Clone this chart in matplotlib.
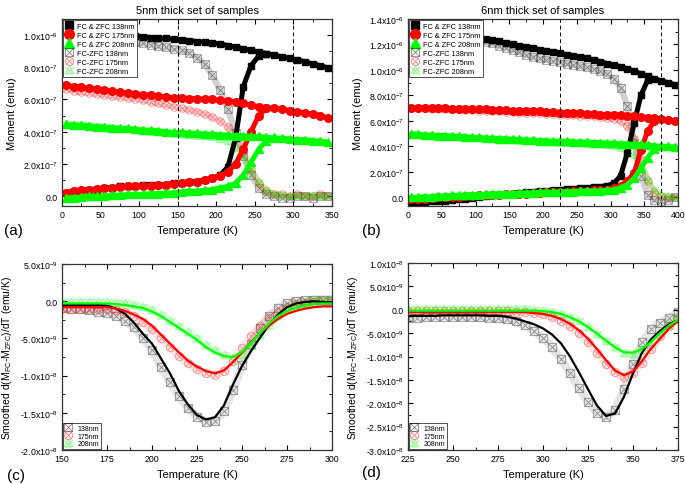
import numpy as np
import matplotlib
matplotlib.use("Agg")
import matplotlib.pyplot as plt
from matplotlib.path import Path
from matplotlib.lines import Line2D
from matplotlib.ticker import MultipleLocator, AutoMinorLocator, FuncFormatter

plt.rcParams.update({
    "font.family": ["Liberation Sans", "DejaVu Sans"],
    "mathtext.fontset": "custom",
    "mathtext.rm": "Liberation Sans",
    "mathtext.it": "Liberation Sans:italic",
    "mathtext.default": "regular",
})

# ---- panel (a): 5nm set, moment in 1e-6 emu ----
temps_a = [5, 15, 25, 35, 45, 55, 65, 75, 85, 95, 105, 115, 125, 135, 145, 155, 165, 175,
           185, 195, 205, 215, 225, 235, 245, 255, 265, 275, 285, 295, 305, 315, 325, 335, 345]
fc_138_a = [1.03, 1.03, 1.02, 1.02, 1.01, 1.01, 1.01, 1.00, 1.00, 0.995, 0.99, 0.985, 0.98, 0.98,
            0.975, 0.97, 0.965, 0.96, 0.955, 0.95, 0.945, 0.935, 0.925, 0.915, 0.905, 0.895,
            0.885, 0.875, 0.865, 0.855, 0.845, 0.835, 0.82, 0.81, 0.795]
zfc_138_a = [0.02, 0.03, 0.03, 0.04, 0.04, 0.05, 0.05, 0.06, 0.06, 0.06, 0.07, 0.07, 0.07, 0.07,
             0.08, 0.08, 0.09, 0.09, 0.10, 0.11, 0.13, 0.18, 0.36, 0.68, 0.81, 0.87, 0.885]
diff_138_a = [0.99, 0.99, 0.985, 0.98, 0.98, 0.975, 0.97, 0.965, 0.96, 0.955, 0.95, 0.94, 0.93,
              0.925, 0.915, 0.905, 0.89, 0.86, 0.82, 0.75, 0.66, 0.54, 0.39, 0.25, 0.13, 0.05,
              0.01, 0.0, -0.01, -0.01, 0.0, 0.0, -0.01, 0.0, 0.0]
fc_175_a = [0.69, 0.68, 0.675, 0.67, 0.665, 0.66, 0.65, 0.645, 0.64, 0.635, 0.63, 0.625, 0.62,
            0.615, 0.61, 0.61, 0.605, 0.605, 0.60, 0.60, 0.595, 0.59, 0.585, 0.575, 0.565, 0.555,
            0.55, 0.545, 0.54, 0.53, 0.525, 0.515, 0.51, 0.50, 0.485]
zfc_175_a = [0.02, 0.03, 0.035, 0.04, 0.045, 0.05, 0.05, 0.055, 0.06, 0.06, 0.065, 0.065, 0.07,
             0.07, 0.075, 0.08, 0.085, 0.09, 0.10, 0.11, 0.125, 0.15, 0.20, 0.29, 0.40, 0.50, 0.545]
diff_175_a = [0.665, 0.655, 0.645, 0.64, 0.635, 0.63, 0.62, 0.615, 0.61, 0.605, 0.595, 0.585,
              0.575, 0.565, 0.555, 0.545, 0.535, 0.525, 0.51, 0.49, 0.465, 0.43, 0.37, 0.28,
              0.17, 0.08, 0.03, 0.01, 0.01, 0.0, 0.01, 0.0, 0.0, 0.01, 0.0]
fc_208_a = [0.445, 0.44, 0.44, 0.435, 0.43, 0.43, 0.425, 0.42, 0.42, 0.415, 0.41, 0.41, 0.405,
            0.40, 0.395, 0.395, 0.39, 0.39, 0.385, 0.385, 0.38, 0.38, 0.375, 0.375, 0.37, 0.37,
            0.365, 0.36, 0.36, 0.355, 0.35, 0.35, 0.345, 0.34, 0.335]
zfc_208_a = [-0.01, -0.01, -0.005, 0.0, 0.0, 0.0, 0.005, 0.005, 0.01, 0.01, 0.01, 0.015, 0.015,
             0.02, 0.02, 0.025, 0.03, 0.03, 0.035, 0.04, 0.05, 0.06, 0.08, 0.13, 0.21, 0.29,
             0.345, 0.365]
diff_208_a = [0.45, 0.445, 0.44, 0.44, 0.435, 0.43, 0.425, 0.42, 0.415, 0.41, 0.405, 0.40, 0.395,
              0.39, 0.385, 0.38, 0.38, 0.375, 0.37, 0.365, 0.355, 0.34, 0.30, 0.24, 0.16, 0.09,
              0.04, 0.015, 0.005, 0.0, 0.0, 0.0, 0.005, 0.0, 0.0]

# ---- panel (b): 6nm set, moment in 1e-6 emu ----
temps_b = [5, 15, 25, 35, 45, 55, 65, 75, 85, 95, 105, 115, 125, 135, 145, 155, 165, 175, 185, 195,
           205, 215, 225, 235, 245, 255, 265, 275, 285, 295, 305, 315, 325, 335, 345, 355, 365,
           375, 385, 395]
fc_138_b = [1.30, 1.295, 1.29, 1.285, 1.28, 1.275, 1.27, 1.265, 1.26, 1.255, 1.25, 1.24, 1.235,
            1.225, 1.21, 1.20, 1.19, 1.18, 1.17, 1.16, 1.15, 1.14, 1.13, 1.12, 1.11, 1.10, 1.09,
            1.08, 1.065, 1.05, 1.04, 1.025, 1.01, 0.99, 0.97, 0.95, 0.93, 0.915, 0.90, 0.885]
zfc_138_b = [-0.04, -0.04, -0.035, -0.03, -0.03, -0.025, -0.02, -0.015, -0.01, -0.005, 0.0, 0.01,
             0.015, 0.02, 0.025, 0.03, 0.035, 0.04, 0.045, 0.05, 0.05, 0.055, 0.06, 0.065, 0.065,
             0.07, 0.075, 0.08, 0.085, 0.09, 0.11, 0.17, 0.35, 0.58, 0.80, 0.92]
diff_138_b = [1.30, 1.29, 1.285, 1.28, 1.27, 1.265, 1.26, 1.25, 1.245, 1.24, 1.23, 1.22, 1.21,
              1.19, 1.175, 1.16, 1.14, 1.12, 1.10, 1.09, 1.08, 1.07, 1.06, 1.05, 1.04, 1.03, 1.02,
              1.005, 0.99, 0.97, 0.93, 0.86, 0.72, 0.43, 0.17, 0.02, -0.02, -0.03, -0.02, 0.0]
fc_175_b = [0.705, 0.705, 0.70, 0.70, 0.70, 0.70, 0.695, 0.695, 0.695, 0.69, 0.69, 0.69, 0.685,
            0.685, 0.685, 0.68, 0.68, 0.68, 0.675, 0.675, 0.67, 0.67, 0.665, 0.665, 0.66, 0.66,
            0.655, 0.655, 0.65, 0.65, 0.645, 0.645, 0.64, 0.635, 0.63, 0.625, 0.62, 0.615, 0.61,
            0.60]
zfc_175_b = [-0.015, -0.01, -0.01, -0.005, 0.0, 0.0, 0.005, 0.005, 0.01, 0.01, 0.015, 0.015, 0.02,
             0.02, 0.025, 0.025, 0.03, 0.03, 0.035, 0.035, 0.04, 0.04, 0.045, 0.045, 0.05, 0.05,
             0.05, 0.055, 0.055, 0.06, 0.07, 0.09, 0.13, 0.19, 0.37, 0.52, 0.60]
diff_175_b = [0.70, 0.70, 0.70, 0.695, 0.695, 0.69, 0.69, 0.69, 0.685, 0.685, 0.68, 0.68, 0.675,
              0.675, 0.67, 0.67, 0.665, 0.665, 0.66, 0.66, 0.655, 0.655, 0.65, 0.645, 0.645, 0.64,
              0.64, 0.635, 0.63, 0.625, 0.615, 0.60, 0.56, 0.46, 0.30, 0.13, 0.04, 0.01, 0.0, 0.0]
fc_208_b = [0.50, 0.495, 0.49, 0.49, 0.485, 0.485, 0.48, 0.48, 0.475, 0.47, 0.47, 0.465, 0.465,
            0.46, 0.46, 0.455, 0.455, 0.45, 0.45, 0.445, 0.445, 0.44, 0.44, 0.44, 0.435, 0.435,
            0.435, 0.43, 0.43, 0.425, 0.425, 0.42, 0.42, 0.415, 0.415, 0.41, 0.405, 0.40, 0.40,
            0.395]
zfc_208_b = [0.0, 0.0, 0.005, 0.005, 0.01, 0.01, 0.015, 0.015, 0.02, 0.02, 0.02, 0.025, 0.025,
             0.03, 0.03, 0.03, 0.035, 0.035, 0.035, 0.04, 0.04, 0.04, 0.045, 0.045, 0.045, 0.05,
             0.05, 0.05, 0.05, 0.055, 0.06, 0.075, 0.10, 0.15, 0.23, 0.31, 0.38, 0.405]
diff_208_b = [0.495, 0.49, 0.485, 0.485, 0.48, 0.48, 0.475, 0.47, 0.47, 0.465, 0.465, 0.46, 0.455,
              0.455, 0.45, 0.45, 0.445, 0.445, 0.44, 0.44, 0.435, 0.435, 0.43, 0.43, 0.425, 0.425,
              0.42, 0.42, 0.415, 0.41, 0.40, 0.39, 0.37, 0.33, 0.25, 0.14, 0.06, 0.02, 0.01, 0.0]

# ---- panel (c): 5nm set derivative, in 1e-9 emu/K ----
temps_c = [150, 155, 160, 165, 170, 175, 180, 185, 190, 195, 200, 205, 210, 215, 220, 225, 230,
           235, 240, 245, 250, 255, 260, 265, 270, 275, 280, 285, 290, 295, 300]
pts_138_c = [-0.9, -1.0, -1.1, -1.2, -1.4, -1.6, -2.0, -2.6, -3.5, -4.9, -6.6, -8.8, -10.9, -12.8,
             -14.4, -15.5, -16.2, -16.1, -14.8, -12.0, -8.6, -5.8, -3.6, -2.0, -0.9, -0.3, 0.0,
             0.1, 0.2, 0.2, 0.2]
fit_138_c = [-0.5, -0.5, -0.5, -0.5, -0.5, -0.6, -1.0, -1.7, -2.9, -4.4, -5.7, -7.7, -9.7, -12.1,
             -13.9, -15.3, -15.9, -15.6, -14.0, -11.2, -8.7, -6.7, -4.9, -3.2, -1.8, -0.8, -0.3,
             -0.1, 0.0, -0.1, -0.2]
pts_175_c = [-1.0, -1.0, -1.0, -1.0, -1.0, -1.0, -1.2, -1.5, -2.0, -2.8, -3.8, -5.0, -6.2, -7.3,
             -8.3, -9.1, -9.7, -9.9, -9.4, -8.0, -6.3, -4.7, -3.4, -2.3, -1.4, -0.8, -0.4, -0.2,
             -0.1, 0.0, 0.0]
fit_175_c = [-0.8, -0.8, -0.8, -0.8, -0.8, -0.8, -1.0, -1.3, -1.8, -2.4, -3.3, -4.5, -5.7, -6.9,
             -8.0, -8.8, -9.4, -9.7, -9.3, -8.2, -6.9, -5.5, -4.3, -3.3, -2.4, -1.7, -1.3, -1.0,
             -0.8, -0.7, -0.7]
pts_208_c = [-0.1, -0.1, -0.1, -0.1, -0.1, -0.1, -0.2, -0.3, -0.5, -0.8, -1.2, -1.8, -2.6, -3.4,
             -4.2, -5.0, -5.9, -6.6, -7.2, -7.6, -7.2, -6.0, -4.6, -3.2, -2.0, -1.1, -0.5, -0.2,
             0.1, 0.2, 0.3]
fit_208_c = [-0.3, -0.3, -0.3, -0.3, -0.3, -0.3, -0.4, -0.5, -0.7, -0.9, -1.4, -2.0, -2.8, -3.6,
             -4.4, -5.2, -6.2, -6.9, -7.4, -7.5, -6.8, -5.6, -4.3, -3.0, -2.0, -1.3, -0.9, -0.6,
             -0.4, -0.3, -0.3]

# ---- panel (d): 6nm set derivative, in 1e-9 emu/K ----
temps_d = [225, 230, 235, 240, 245, 250, 255, 260, 265, 270, 275, 280, 285, 290, 295, 300, 305,
           310, 315, 320, 325, 330, 335, 340, 345, 350, 355, 360, 365, 370, 375]
pts_138_d = [-1.8, -1.7, -1.6, -1.5, -1.5, -1.5, -1.5, -1.6, -1.6, -1.7, -1.8, -2.0, -2.5, -3.3,
             -4.5, -6.0, -8.0, -10.5, -13.5, -16.8, -19.8, -22.0, -23.0, -21.5, -17.0, -11.5,
             -7.0, -4.2, -2.8, -1.8, -0.5]
fit_138_d = [-1.4, -1.3, -1.3, -1.3, -1.2, -1.2, -1.2, -1.2, -1.2, -1.3, -1.3, -1.5, -1.9, -2.5,
             -3.1, -4.0, -5.3, -7.2, -10.0, -13.4, -17.0, -20.5, -22.7, -22.2, -18.6, -13.6,
             -9.2, -6.3, -4.5, -3.1, -2.2]
pts_175_d = [-0.3, -0.3, -0.3, -0.3, -0.3, -0.3, -0.3, -0.3, -0.3, -0.3, -0.3, -0.3, -0.4, -0.5,
             -0.7, -1.0, -1.5, -2.3, -3.5, -5.0, -7.0, -9.2, -11.5, -13.4, -14.3, -13.6, -11.3,
             -8.4, -5.6, -3.5, -2.0]
fit_175_d = [-0.5, -0.5, -0.5, -0.5, -0.5, -0.5, -0.5, -0.5, -0.5, -0.5, -0.5, -0.5, -0.5, -0.5,
             -0.7, -0.9, -1.3, -2.0, -3.0, -4.4, -6.2, -8.4, -10.8, -13.0, -14.0, -13.2, -11.0,
             -8.3, -6.2, -4.0, -2.4]
pts_208_d = [0.2, 0.2, 0.2, 0.2, 0.2, 0.2, 0.2, 0.2, 0.2, 0.2, 0.2, 0.2, 0.2, 0.1, 0.0, -0.2,
             -0.5, -0.9, -1.6, -2.5, -3.7, -5.1, -6.6, -8.0, -9.2, -9.4, -8.6, -7.0, -5.0, -3.3,
             -1.8]
fit_208_d = [-0.2, -0.2, -0.2, -0.2, -0.2, -0.2, -0.2, -0.2, -0.2, -0.2, -0.2, -0.2, -0.2, -0.2,
             -0.2, -0.3, -0.5, -0.9, -1.6, -2.5, -3.7, -5.1, -6.6, -8.0, -9.1, -9.2, -8.4, -6.9,
             -5.0, -3.4, -2.1]

BLACK = "#000000"
RED = "#ff0000"
GREEN = "#00ff00"


# open "crossed" markers like the Origin ones
def crossed(outline, cross):
    return Path.make_compound_path(outline, Path(cross, [Path.MOVETO, Path.LINETO, Path.MOVETO, Path.LINETO]))


sq = Path([(-1, -1), (1, -1), (1, 1), (-1, 1), (-1, -1)],
          [Path.MOVETO, Path.LINETO, Path.LINETO, Path.LINETO, Path.CLOSEPOLY])
tri = Path([(-1, -0.8), (1, -0.8), (0, 1), (-1, -0.8)],
           [Path.MOVETO, Path.LINETO, Path.LINETO, Path.CLOSEPOLY])
MK_SQX = crossed(sq, [(-1, -1), (1, 1), (-1, 1), (1, -1)])
MK_CIRX = crossed(Path.unit_circle(), [(-0.71, -0.71), (0.71, 0.71), (-0.71, 0.71), (0.71, -0.71)])
MK_TRIX = crossed(tri, [(-1, 0.8), (0.6, -0.8), (1, 0.8), (-0.6, -0.8)])


def sci_fmt(v, pos):
    if abs(v) < 1e-15:
        return "0.0"
    e = int(np.floor(np.log10(abs(v)) + 1e-9))
    m = v / 10 ** e
    return f"{m:.1f}x10$^{{{e}}}$"


def style_axes(ax, xmaj, ymaj):
    ax.xaxis.set_major_locator(MultipleLocator(xmaj))
    ax.yaxis.set_major_locator(MultipleLocator(ymaj))
    ax.xaxis.set_minor_locator(AutoMinorLocator(2))
    ax.yaxis.set_minor_locator(AutoMinorLocator(2))
    ax.yaxis.set_major_formatter(FuncFormatter(sci_fmt))
    ax.tick_params(which="both", direction="in", top=True, right=True, labelsize=6.3, pad=3)
    ax.tick_params(which="major", length=3.5, width=0.8)
    ax.tick_params(which="minor", length=2, width=0.6)
    for s in ax.spines.values():
        s.set_linewidth(0.9)
        s.set_color("#333333")
    ax.set_xlabel("Temperature (K)", fontsize=8)


def open_series(ax, t, y, marker, color, ms=5.5, band=4.5, band_alpha=0.18):
    # dense translucent band of crossed markers
    ax.plot(t, y, color=color, lw=band, alpha=band_alpha, solid_capstyle="round")
    ax.plot(t, y, ls="none", marker=marker, ms=ms, mfc="none", mec=color, mew=0.6, alpha=0.4)


def filled_series(ax, t, y, marker, color, ms):
    ax.plot(t, y, color=color, lw=3.6, marker=marker, ms=ms, solid_capstyle="butt")


def open_proxy(marker, color, label, ms=6):
    return Line2D([], [], ls="none", marker=marker, ms=ms, mfc="none", mec=color, mew=0.6,
                  alpha=0.5, label=label)


def moment_panel(ax, temps, data, vlines, xmax, ylim, title):
    (fc1, zfc1, d1), (fc2, zfc2, d2), (fc3, zfc3, d3) = data
    t = np.array(temps)
    s = 1e-6
    open_series(ax, t, np.array(d1) * s, MK_SQX, BLACK)
    open_series(ax, t, np.array(d2) * s, MK_CIRX, RED)
    open_series(ax, t, np.array(d3) * s, MK_TRIX, GREEN)
    filled_series(ax, t, np.array(fc1) * s, "s", BLACK, 5)
    filled_series(ax, t[:len(zfc1)], np.array(zfc1) * s, "s", BLACK, 5)
    filled_series(ax, t, np.array(fc2) * s, "o", RED, 5.5)
    filled_series(ax, t[:len(zfc2)], np.array(zfc2) * s, "o", RED, 5.5)
    filled_series(ax, t, np.array(fc3) * s, "^", GREEN, 5.5)
    filled_series(ax, t[:len(zfc3)], np.array(zfc3) * s, "^", GREEN, 5.5)
    for x in vlines:
        ax.axvline(x, color="k", ls="--", lw=0.7, dashes=(4, 3))
    ax.set_xlim(0, xmax)
    ax.set_ylim(*ylim)
    style_axes(ax, 50, 2e-7)
    ax.set_ylabel("Moment (emu)", fontsize=8)
    ax.set_title(title, fontsize=8, pad=4)
    hs = [Line2D([], [], ls="none", marker="s", ms=6, color=BLACK, label="FC & ZFC 138nm"),
          Line2D([], [], ls="none", marker="o", ms=7, color=RED, label="FC & ZFC 175nm"),
          Line2D([], [], ls="none", marker="^", ms=7, color=GREEN, label="FC & ZFC 208nm"),
          open_proxy(MK_SQX, BLACK, "FC-ZFC 138nm"),
          open_proxy(MK_CIRX, RED, "FC-ZFC 175nm"),
          open_proxy(MK_TRIX, GREEN, "FC-ZFC 208nm")]
    leg = ax.legend(handles=hs, loc="upper left", fontsize=5.3,
                    frameon=True, fancybox=False, edgecolor="#333333", framealpha=1,
                    borderaxespad=0.15, handletextpad=0.5, labelspacing=0.25, borderpad=0.35,
                    handlelength=1.0)
    leg.get_frame().set_linewidth(0.6)
    leg.set_zorder(10)


def deriv_panel(ax, temps, pts, fits, xlim, ylim, ymaj):
    t = np.array(temps)
    s = 1e-9
    markers = [MK_SQX, MK_CIRX, MK_TRIX]
    colors = [BLACK, RED, GREEN]
    labels = ["138nm", "175nm", "208nm"]
    for p, m, c in zip(pts, markers, colors):
        open_series(ax, t, np.array(p) * s, m, c, ms=6, band=6, band_alpha=0.1)
    for f, c in zip(fits, colors):
        ax.plot(t, np.array(f) * s, color=c, lw=1.6)
    ax.set_xlim(*xlim)
    ax.set_ylim(*ylim)
    style_axes(ax, 25, ymaj)
    ax.set_ylabel("Smoothed d(M$_{FC}$-M$_{ZFC}$)/dT (emu/K)", fontsize=7.5)
    hs = [open_proxy(m, c, lab) for m, c, lab in zip(markers, colors, labels)]
    leg = ax.legend(handles=hs, loc="lower left", fontsize=5, frameon=True, fancybox=False,
                    edgecolor="#333333", framealpha=1, borderaxespad=0.1, handletextpad=0.8,
                    labelspacing=0.1, borderpad=0.3, handlelength=1.0)
    leg.get_frame().set_linewidth(0.6)


fig = plt.figure(figsize=(6.85, 4.85), dpi=100)
W, H = 685, 485
ax_a = fig.add_axes([62 / W, 1 - 207 / H, 270 / W, 187 / H])
ax_b = fig.add_axes([408 / W, 1 - 207 / H, 270 / W, 187 / H])
ax_c = fig.add_axes([62 / W, 1 - 451 / H, 270 / W, 186 / H])
ax_d = fig.add_axes([408 / W, 1 - 451 / H, 270 / W, 187 / H])

moment_panel(ax_a, temps_a,
             [(fc_138_a, zfc_138_a, diff_138_a), (fc_175_a, zfc_175_a, diff_175_a),
              (fc_208_a, zfc_208_a, diff_208_a)],
             [150, 300], 350, (-0.062e-6, 1.1e-6), "5nm thick set of samples")
moment_panel(ax_b, temps_b,
             [(fc_138_b, zfc_138_b, diff_138_b), (fc_175_b, zfc_175_b, diff_175_b),
              (fc_208_b, zfc_208_b, diff_208_b)],
             [225, 375], 400, (-0.068e-6, 1.4e-6), "6nm thick set of samples")
deriv_panel(ax_c, temps_c, [pts_138_c, pts_175_c, pts_208_c], [fit_138_c, fit_175_c, fit_208_c],
            (150, 300), (-2.0e-8, 5.0e-9), 5e-9)
deriv_panel(ax_d, temps_d, [pts_138_d, pts_175_d, pts_208_d], [fit_138_d, fit_175_d, fit_208_d],
            (225, 375), (-3.0e-8, 1.0e-8), 5e-9)

for lab, x, y in [("(a)", 4, 231), ("(b)", 362, 231), ("(c)", 7, 476), ("(d)", 362, 473)]:
    fig.text(x / W, 1 - y / H, lab, fontsize=11, va="center", ha="left")

fig.savefig("out.png", dpi=100)
